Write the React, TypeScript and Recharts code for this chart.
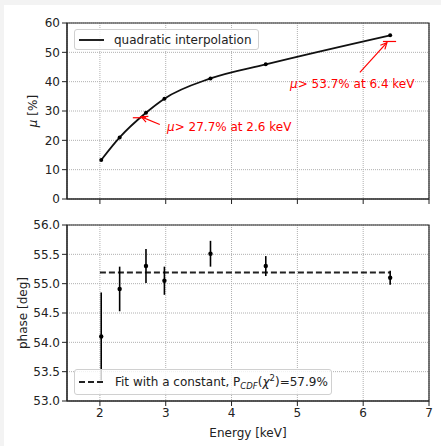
import {
  LineChart, Line, ScatterChart, Scatter, ErrorBar, XAxis, YAxis, CartesianGrid,
  ReferenceArea, ReferenceLine, ReferenceDot,
} from 'recharts';

// top panel: modulation factor vs energy
const energies = [2.02, 2.3, 2.7, 2.98, 3.68, 4.52, 6.41];
const muValues = [13.3, 21.0, 29.4, 34.2, 41.1, 45.9, 55.8];

// bottom panel: phase with errors
const phaseValues = [54.1, 54.91, 55.3, 55.05, 55.51, 55.3, 55.1];
const phaseErrors = [0.75, 0.38, 0.29, 0.24, 0.22, 0.17, 0.12];
const fitConstant = 55.19;
const fitRange = [2.0, 6.41];

const xTicks = [2, 3, 4, 5, 6, 7];
const muTicks = [0, 10, 20, 30, 40, 50, 60];
const phaseTicks = [53, 53.5, 54, 54.5, 55, 55.5, 56];

// annotations: threshold marker, label position, arrow start/end
const thresholds = [
  { e: 2.6, mu: 27.7, text: '> 27.7% at 2.6 keV', tx: 3.02, ty: 24.4, from: [2.91, 25.4], to: [2.63, 28.0] },
  { e: 6.4, mu: 53.7, text: '> 53.7% at 6.4 keV', tx: 4.89, ty: 39.2, from: [5.95, 43.2], to: [6.36, 53.3] },
];

const muData = energies.map((e, i) => ({ energy: e, mu: muValues[i] }));
const phaseData = energies.map((e, i) => ({ energy: e, phase: phaseValues[i], err: phaseErrors[i] }));

const FONT = 'DejaVu Sans';
const AX = '#222';
const tickStyle = { fontSize: 12, fill: AX, fontFamily: FONT };

const arrowShape = (props: any) => {
  const { x1, y1, x2, y2 } = props;
  const ang = Math.atan2(y2 - y1, x2 - x1);
  const L = 7;
  const a = 0.45;
  const ax = x2 - L * Math.cos(ang - a);
  const ay = y2 - L * Math.sin(ang - a);
  const bx = x2 - L * Math.cos(ang + a);
  const by = y2 - L * Math.sin(ang + a);
  return (
    <g>
      <line x1={x1} y1={y1} x2={x2} y2={y2} stroke="red" strokeWidth={1.2} />
      <polyline points={`${ax},${ay} ${x2},${y2} ${bx},${by}`} fill="none" stroke="red" strokeWidth={1.2} />
    </g>
  );
};

const legendBox = {
  position: 'absolute' as const, border: '1px solid #d0d0d0', borderRadius: 3,
  background: 'rgba(255,255,255,0.8)', display: 'flex', alignItems: 'center',
  fontFamily: FONT, fontSize: 12, color: AX, boxSizing: 'border-box' as const,
};

const yLabel = (text: any, cx: number) => (props: any) => {
  const vb = props.viewBox;
  const cy = vb.y + vb.height / 2;
  return (
    <text x={cx} y={cy} transform={`rotate(-90, ${cx}, ${cy})`} textAnchor="middle"
      dominantBaseline="central" fontSize={12} fill={AX} fontFamily={FONT}>
      {text}
    </text>
  );
};

export default function App() {
  return (
    <div style={{ position: 'fixed', left: 0, top: 0, width: 441, height: 446, background: '#f3f3f3' }}>
      <div style={{ position: 'absolute', left: 4, top: 5, width: 437, height: 441, background: '#fff' }} />
      <div style={{ position: 'absolute', left: 0, top: 0 }}>
        <LineChart width={441} height={210} data={muData} margin={{ top: 23, right: 12, bottom: 5, left: 0 }}>
          <CartesianGrid stroke="#b0b0b0" strokeDasharray="1 1" />
          <XAxis dataKey="energy" type="number" domain={[1.5, 7]} ticks={xTicks} height={6}
            tickFormatter={() => ''} tickSize={5} stroke={AX} />
          <YAxis type="number" domain={[0, 60]} ticks={muTicks} width={67} tickSize={5} tickMargin={2}
            tick={tickStyle} stroke={AX}
            label={{ content: yLabel(<><tspan fontStyle="italic">μ</tspan> [%]</>, 33) }} />
          <ReferenceArea x1={1.5} x2={7} y1={0} y2={60} fill="none" stroke={AX} strokeWidth={1.2} ifOverflow="visible" />
          <Line type="monotone" dataKey="mu" stroke="#111" strokeWidth={1.8} isAnimationActive={false}
            dot={{ r: 2, fill: '#000', stroke: '#000', strokeWidth: 0 }} />
          {thresholds.map((t, i) => (
            <ReferenceLine key={`s${i}`} segment={[{ x: t.e - 0.1, y: t.mu }, { x: t.e + 0.1, y: t.mu }]}
              stroke="red" strokeWidth={1.2} ifOverflow="visible" />
          ))}
          {thresholds.map((t, i) => (
            <ReferenceLine key={`a${i}`} segment={[{ x: t.from[0], y: t.from[1] }, { x: t.to[0], y: t.to[1] }]}
              shape={arrowShape} ifOverflow="visible" />
          ))}
          {thresholds.map((t, i) => (
            <ReferenceDot key={`t${i}`} x={t.tx} y={t.ty} r={0} fill="none" stroke="none" ifOverflow="visible"
              label={{
                content: (p: any) => (
                  <text x={p.viewBox.x} y={p.viewBox.y} fill="red" fontSize={12} fontFamily={FONT}
                    dominantBaseline="central">
                    <tspan fontStyle="italic">μ</tspan>{t.text}
                  </text>
                ),
              }} />
          ))}
        </LineChart>
        <div style={{ ...legendBox, left: 74, top: 29, width: 185, height: 21 }}>
          <div style={{ width: 25, height: 0, borderTop: '2px solid #222', marginLeft: 4, marginRight: 10 }} />
          quadratic interpolation
        </div>
      </div>
      <div style={{ position: 'absolute', left: 0, top: 210 }}>
        <ScatterChart width={441} height={236} margin={{ top: 15, right: 12, bottom: 9, left: 0 }}>
          <CartesianGrid stroke="#b0b0b0" strokeDasharray="1 1" />
          <XAxis dataKey="energy" type="number" domain={[1.5, 7]} ticks={xTicks} height={36}
            tickSize={5} tickMargin={2} tick={tickStyle} stroke={AX}
            label={{ value: 'Energy [keV]', position: 'insideBottom', offset: 0, fontSize: 12, fill: AX, fontFamily: FONT }} />
          <YAxis dataKey="phase" type="number" domain={[53, 56]} ticks={phaseTicks} width={67} tickSize={5}
            tickMargin={2} tick={tickStyle} stroke={AX} tickFormatter={(v: number) => v.toFixed(1)}
            label={{ content: yLabel('phase [deg]', 23) }} />
          <ReferenceArea x1={1.5} x2={7} y1={53} y2={56} fill="none" stroke={AX} strokeWidth={1.2} ifOverflow="visible" />
          <ReferenceLine segment={[{ x: fitRange[0], y: fitConstant }, { x: fitRange[1], y: fitConstant }]}
            stroke="#222" strokeWidth={2.2} strokeDasharray="6 3" />
          <Scatter data={phaseData} dataKey="phase" fill="#000" isAnimationActive={false}
            shape={(p: any) => <circle cx={p.cx} cy={p.cy} r={2.2} fill="#000" />}>
            <ErrorBar dataKey="err" direction="y" width={0} stroke="#000" strokeWidth={1.6} isAnimationActive={false} />
          </Scatter>
        </ScatterChart>
        <div style={{ ...legendBox, left: 74, top: 159, width: 258, height: 26 }}>
          <div style={{ width: 24, height: 0, borderTop: '2px dashed #222', marginLeft: 4, marginRight: 12 }} />
          <span>
            Fit with a constant, P<sub style={{ fontSize: 8.5, fontStyle: 'italic' }}>CDF</sub>(<i>χ</i>
            <sup style={{ fontSize: 8.5 }}>2</sup>)=57.9%
          </span>
        </div>
      </div>
    </div>
  );
}
